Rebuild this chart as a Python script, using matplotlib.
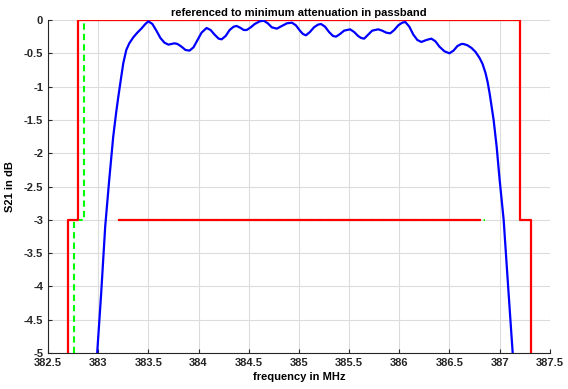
import numpy as np
import matplotlib.pyplot as plt

freq = [382.96, 382.99, 383.03, 383.07, 383.11, 383.15, 383.18, 383.20, 383.23, 383.25,
        383.28, 383.31, 383.35, 383.39, 383.43, 383.47,
        383.50, 383.54, 383.58, 383.62, 383.66, 383.70, 383.73, 383.76, 383.79, 383.83,
        383.87, 383.91, 383.95, 383.99, 384.03, 384.08, 384.12, 384.16, 384.20, 384.23,
        384.27, 384.31, 384.35, 384.38, 384.42, 384.45, 384.48, 384.52, 384.56, 384.61,
        384.65, 384.69, 384.73, 384.78, 384.83, 384.88, 384.93, 384.97, 385.01, 385.04,
        385.07, 385.11, 385.15, 385.19, 385.22, 385.26, 385.30, 385.34, 385.37, 385.41,
        385.45, 385.51, 385.55, 385.59, 385.62, 385.65, 385.69, 385.73, 385.79, 385.83,
        385.87, 385.91, 385.95, 385.99, 386.03, 386.06, 386.10, 386.14, 386.18, 386.22,
        386.27, 386.32, 386.36, 386.40, 386.45, 386.50, 386.54, 386.58, 386.62, 386.64,
        386.68, 386.72, 386.76, 386.80, 386.83, 386.86, 386.88, 386.90, 386.92, 386.94,
        386.97, 387.00, 387.04, 387.08, 387.13, 387.15]
s21 = [-5.50, -5.00, -4.10, -3.10, -2.40, -1.75, -1.38, -1.16, -0.85, -0.65,
       -0.45, -0.35, -0.26, -0.19, -0.13, -0.06,
       -0.02, -0.06, -0.16, -0.27, -0.34, -0.37, -0.36, -0.35, -0.36, -0.40,
       -0.45, -0.46, -0.41, -0.30, -0.19, -0.12, -0.15, -0.22, -0.28, -0.29,
       -0.24, -0.15, -0.10, -0.09, -0.12, -0.15, -0.15, -0.11, -0.06, -0.02,
       -0.01, -0.05, -0.11, -0.13, -0.09, -0.05, -0.04, -0.08, -0.16, -0.21,
       -0.23, -0.18, -0.11, -0.07, -0.06, -0.10, -0.18, -0.24, -0.25, -0.21,
       -0.16, -0.14, -0.18, -0.24, -0.27, -0.28, -0.22, -0.16, -0.14, -0.16,
       -0.19, -0.20, -0.15, -0.08, -0.04, -0.03, -0.10, -0.22, -0.30, -0.33,
       -0.30, -0.28, -0.32, -0.40, -0.47, -0.50, -0.46, -0.39, -0.36, -0.36,
       -0.38, -0.42, -0.48, -0.57, -0.66, -0.80, -0.93, -1.10, -1.30, -1.50,
       -1.90, -2.40, -3.00, -3.90, -5.00, -5.40]

# tolerance masks
mask_red_f = [382.70, 382.70, 382.80, 382.80, 387.20, 387.20, 387.31, 387.31]
mask_red_a = [-5.0, -3.0, -3.0, 0.0, 0.0, -3.0, -3.0, -5.0]
mask_green_f = [382.76, 382.76, 382.86, 382.86, 387.20]
mask_green_a = [-5.0, -3.0, -3.0, 0.0, 0.0]
stop_green_f = [383.21, 386.85]
stop_red_f = [383.21, 386.80]
stop_level = [-3.0, -3.0]

plt.rcParams['font.family'] = ['Liberation Sans', 'DejaVu Sans']
plt.rcParams['font.weight'] = 'bold'

fig = plt.figure(figsize=(5.68, 3.89), dpi=100)
ax = fig.add_axes([0.0845, 0.0925, 0.8835, 0.8561])

ax.plot(mask_green_f, mask_green_a, color='#00ff00', lw=1.5, ls=(0, (3, 2)), zorder=3)
ax.plot(stop_green_f, stop_level, color='#00ff00', lw=1.5, ls=(0, (3, 2)), zorder=3)
ax.plot(mask_red_f, mask_red_a, color='#ff0000', lw=1.6, zorder=4)
ax.plot(stop_red_f, stop_level, color='#ff0000', lw=1.6, zorder=4)
ax.plot(freq, s21, color='#0000ff', lw=1.6, zorder=5)

ax.set_xlim(382.5, 387.5)
ax.set_ylim(-5, 0)
xt = np.arange(382.5, 387.51, 0.5)
yt = np.arange(-5, 0.01, 0.5)
ax.set_xticks(xt)
ax.set_xticklabels(['%g' % v for v in xt])
ax.set_yticks(yt)
ax.set_yticklabels(['%g' % v for v in yt])
ax.tick_params(direction='in', labelsize=8, length=3, colors='#262626')
ax.grid(True, color='#dcdcdc', lw=0.8)
ax.set_axisbelow(True)
for s in ['top', 'right']:
    ax.spines[s].set_visible(False)
for s in ['left', 'bottom']:
    ax.spines[s].set_color('#262626')

ax.set_title('referenced to minimum attenuation in passband', fontsize=8, fontweight='bold', pad=3)
ax.set_xlabel('frequency in MHz', fontsize=8, fontweight='bold', labelpad=3)
ax.set_ylabel('S21 in dB', fontsize=8, fontweight='bold', labelpad=6)

fig.savefig('out.png', dpi=100)
